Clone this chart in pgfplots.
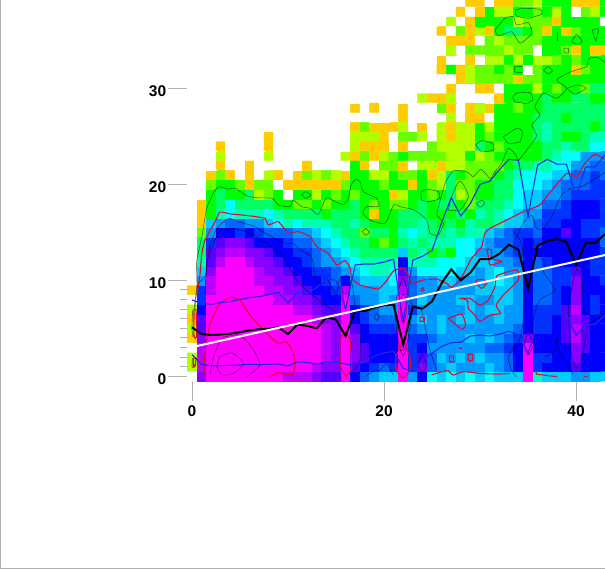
\documentclass[border=0pt]{standalone}
\usepackage{fontspec}
\setmainfont{Liberation Sans}
\usepackage{pgfplots}
\pgfplotsset{compat=1.18}
\definecolor{cblue}{RGB}{30,40,230}
\definecolor{cred}{RGB}{225,10,50}
\definecolor{tickg}{RGB}{176,176,176}
\begin{document}
\begin{tikzpicture}[x=1pt,y=1pt]
\useasboundingbox (0,0) rectangle (605,569);
\draw[tickg,line width=1pt] (0.5,569) -- (0.5,0.5) -- (605,0.5);
\begin{axis}[
  at={(187.2pt,187.9pt)},anchor=south west,
  scale only axis,width=417.8pt,height=381.1pt,
  xmin=-0.5,xmax=43.02,ymin=-0.5,ymax=39.2,
  axis line style={draw=none},
  xtick={0,20,40},ytick={0,10,20,30},
  minor ytick={1,2,3,4,5,6,7,8,9},
  xtick pos=bottom,ytick pos=left,tick align=outside,
  major tick length=19.5pt,minor tick length=7pt,
  tick style={draw=tickg,line width=1pt},
  ticklabel style={font=\bfseries\fontsize{15.5}{15.5}\selectfont,text=black},
  xticklabel style={yshift=-1.5pt},
  yticklabel style={xshift=2pt,yshift=-3pt},
  /pgf/number format/assume math mode=true,
  point meta min=0,point meta max=16,
  colormap={levels}{
    rgb255(0)=(255,255,255) rgb255(1)=(255,204,0) rgb255(2)=(179,255,0)
    rgb255(3)=(102,255,0) rgb255(4)=(0,255,0) rgb255(5)=(0,255,102)
    rgb255(6)=(0,255,179) rgb255(7)=(0,255,255) rgb255(8)=(0,204,255)
    rgb255(9)=(0,153,255) rgb255(10)=(0,102,255) rgb255(11)=(0,51,255)
    rgb255(12)=(0,0,255) rgb255(13)=(85,0,255) rgb255(14)=(136,0,255)
    rgb255(15)=(187,0,255) rgb255(16)=(255,0,255)},
  clip=true,
]
\addplot[matrix plot*,mesh/cols=44,mesh/ordering=x varies,point meta=explicit,draw=none]
 table[row sep=\\,x expr={mod(\coordindex,44)},y expr={floor((\coordindex+0.5)/44)},meta=v]{
v\\
0\\14\\16\\16\\16\\16\\16\\16\\16\\16\\15\\15\\15\\14\\13\\13\\16\\12\\10\\9\\8\\8\\16\\9\\12\\7\\8\\7\\8\\7\\8\\7\\8\\8\\8\\16\\6\\8\\8\\8\\9\\9\\8\\8\\
2\\15\\16\\16\\16\\16\\16\\16\\16\\16\\16\\16\\16\\15\\14\\14\\16\\13\\12\\11\\10\\11\\16\\11\\14\\10\\9\\8\\9\\9\\9\\8\\9\\10\\12\\16\\11\\12\\12\\12\\13\\12\\12\\12\\
2\\15\\16\\16\\16\\16\\16\\16\\16\\16\\16\\16\\16\\16\\15\\14\\16\\14\\13\\12\\12\\12\\16\\11\\13\\10\\8\\9\\8\\9\\8\\9\\9\\10\\12\\16\\11\\11\\12\\12\\14\\12\\12\\12\\
0\\15\\16\\16\\16\\16\\16\\16\\16\\16\\16\\16\\16\\16\\15\\14\\16\\14\\13\\12\\12\\12\\16\\11\\12\\9\\9\\9\\9\\9\\9\\10\\10\\11\\12\\16\\12\\12\\12\\12\\14\\13\\12\\12\\
1\\14\\16\\16\\16\\16\\16\\16\\16\\16\\16\\16\\16\\16\\15\\14\\16\\14\\12\\12\\12\\12\\16\\11\\11\\10\\9\\9\\9\\8\\9\\8\\9\\10\\11\\14\\12\\12\\12\\13\\15\\13\\12\\12\\
2\\13\\16\\16\\16\\16\\16\\16\\16\\16\\16\\16\\16\\16\\15\\14\\16\\13\\12\\11\\11\\11\\16\\10\\9\\9\\8\\9\\9\\9\\9\\9\\9\\9\\10\\12\\11\\11\\12\\13\\15\\13\\12\\12\\
1\\13\\16\\16\\16\\16\\16\\16\\16\\16\\16\\16\\16\\15\\14\\14\\16\\12\\11\\10\\10\\10\\16\\9\\8\\9\\8\\9\\8\\8\\9\\9\\8\\9\\9\\12\\11\\11\\12\\13\\14\\13\\12\\12\\
2\\12\\16\\16\\16\\16\\16\\16\\16\\16\\16\\15\\15\\14\\13\\13\\16\\12\\11\\10\\9\\9\\16\\11\\9\\9\\9\\9\\9\\8\\9\\8\\8\\9\\9\\12\\11\\11\\11\\13\\15\\12\\11\\12\\
0\\11\\16\\16\\16\\16\\16\\16\\16\\15\\15\\14\\14\\13\\12\\12\\16\\10\\9\\9\\8\\9\\16\\10\\8\\9\\9\\9\\8\\8\\9\\9\\8\\8\\9\\12\\10\\10\\11\\12\\14\\12\\11\\12\\
1\\11\\15\\16\\16\\16\\16\\16\\15\\15\\14\\14\\13\\12\\12\\11\\15\\9\\9\\9\\8\\8\\15\\10\\9\\9\\9\\9\\9\\9\\8\\8\\8\\8\\9\\12\\10\\10\\11\\12\\14\\12\\12\\12\\
0\\9\\15\\16\\16\\16\\16\\15\\15\\14\\14\\13\\12\\12\\11\\10\\12\\9\\8\\8\\8\\7\\14\\10\\9\\9\\8\\8\\9\\9\\9\\8\\7\\8\\9\\12\\10\\10\\11\\11\\14\\12\\12\\11\\
0\\8\\14\\16\\16\\16\\16\\15\\14\\14\\13\\12\\12\\11\\11\\10\\9\\8\\7\\6\\6\\7\\13\\9\\7\\7\\7\\7\\8\\8\\9\\8\\7\\9\\9\\12\\10\\10\\11\\11\\13\\12\\11\\11\\
0\\6\\13\\15\\16\\16\\15\\14\\14\\13\\12\\12\\11\\10\\9\\9\\8\\7\\6\\6\\6\\6\\12\\6\\6\\6\\7\\7\\7\\8\\8\\8\\9\\9\\10\\12\\10\\11\\12\\12\\12\\12\\11\\11\\
0\\5\\13\\14\\15\\15\\14\\14\\13\\12\\12\\11\\11\\10\\9\\8\\7\\6\\5\\5\\5\\5\\8\\5\\6\\4\\5\\4\\7\\7\\9\\9\\9\\10\\11\\12\\12\\12\\12\\12\\12\\12\\12\\11\\
0\\5\\11\\13\\14\\14\\13\\12\\12\\12\\11\\10\\10\\9\\8\\7\\6\\5\\5\\4\\3\\4\\5\\6\\5\\6\\6\\6\\7\\7\\8\\9\\10\\10\\11\\12\\11\\12\\12\\12\\12\\12\\12\\10\\
0\\3\\9\\12\\12\\11\\12\\11\\10\\10\\10\\9\\9\\8\\7\\6\\5\\5\\3\\5\\5\\4\\6\\7\\6\\5\\5\\6\\5\\6\\6\\8\\9\\10\\11\\11\\10\\12\\12\\13\\12\\11\\11\\10\\
0\\1\\8\\9\\10\\10\\9\\9\\8\\7\\6\\7\\6\\6\\6\\5\\5\\6\\5\\4\\4\\4\\5\\5\\6\\5\\4\\5\\4\\6\\5\\5\\6\\8\\8\\9\\10\\11\\11\\12\\12\\11\\11\\11\\
0\\1\\4\\6\\7\\6\\6\\6\\7\\6\\5\\5\\5\\5\\4\\5\\5\\5\\4\\1\\4\\4\\5\\5\\5\\4\\4\\4\\5\\4\\6\\5\\6\\7\\8\\9\\9\\11\\11\\11\\12\\12\\12\\11\\
0\\1\\4\\5\\7\\5\\5\\5\\5\\4\\4\\3\\3\\4\\3\\4\\4\\5\\4\\3\\4\\3\\3\\4\\5\\4\\5\\5\\4\\3\\5\\5\\5\\6\\7\\8\\8\\10\\10\\11\\12\\12\\12\\11\\
0\\0\\4\\5\\4\\4\\5\\2\\3\\4\\0\\4\\4\\2\\4\\3\\4\\3\\4\\4\\4\\1\\2\\4\\4\\3\\4\\5\\2\\3\\4\\4\\5\\5\\7\\8\\8\\9\\9\\10\\11\\11\\11\\11\\
0\\0\\3\\4\\4\\3\\1\\3\\3\\0\\1\\1\\1\\1\\1\\1\\3\\4\\4\\4\\3\\4\\4\\1\\4\\3\\2\\5\\3\\3\\4\\4\\5\\5\\7\\7\\7\\8\\9\\10\\10\\10\\11\\11\\
0\\0\\1\\3\\1\\0\\1\\0\\2\\1\\0\\1\\3\\2\\3\\2\\1\\4\\4\\2\\2\\4\\3\\3\\4\\1\\2\\5\\4\\3\\3\\3\\4\\5\\6\\7\\7\\7\\8\\8\\10\\10\\11\\10\\
0\\0\\0\\1\\0\\0\\1\\0\\0\\0\\0\\0\\1\\0\\0\\0\\0\\4\\1\\0\\3\\3\\1\\0\\2\\2\\1\\2\\2\\3\\3\\3\\3\\4\\5\\5\\6\\6\\7\\7\\9\\9\\10\\10\\
0\\0\\0\\2\\0\\0\\0\\0\\2\\0\\0\\0\\0\\0\\0\\0\\2\\1\\3\\1\\2\\3\\4\\3\\3\\3\\3\\2\\2\\4\\2\\3\\4\\4\\4\\4\\4\\5\\6\\7\\7\\9\\9\\9\\
0\\0\\0\\1\\0\\0\\0\\0\\1\\0\\0\\0\\0\\0\\0\\0\\0\\2\\1\\1\\1\\0\\1\\0\\0\\3\\2\\2\\2\\2\\5\\4\\3\\4\\4\\4\\4\\5\\5\\6\\5\\5\\7\\7\\
0\\0\\0\\0\\0\\0\\0\\0\\1\\0\\0\\0\\0\\0\\0\\0\\0\\2\\2\\2\\1\\0\\3\\3\\2\\0\\2\\1\\2\\2\\4\\3\\4\\4\\4\\4\\5\\6\\5\\4\\4\\5\\6\\6\\
0\\0\\0\\0\\0\\0\\0\\0\\0\\0\\0\\0\\0\\0\\0\\0\\0\\1\\3\\1\\1\\1\\2\\0\\1\\0\\2\\1\\2\\2\\4\\2\\4\\4\\4\\4\\5\\6\\5\\5\\5\\5\\4\\5\\
0\\0\\0\\0\\0\\0\\0\\0\\0\\0\\0\\0\\0\\0\\0\\0\\0\\0\\0\\0\\0\\0\\1\\0\\0\\0\\0\\2\\0\\1\\1\\0\\4\\4\\4\\4\\5\\5\\5\\4\\5\\5\\5\\5\\
0\\0\\0\\0\\0\\0\\0\\0\\0\\0\\0\\0\\0\\0\\0\\0\\0\\1\\0\\1\\0\\0\\1\\0\\0\\0\\3\\1\\0\\1\\2\\1\\4\\4\\3\\4\\4\\5\\5\\5\\5\\5\\5\\5\\
0\\0\\0\\0\\0\\0\\0\\0\\0\\0\\0\\0\\0\\0\\0\\0\\0\\0\\0\\0\\0\\0\\0\\0\\2\\1\\1\\2\\0\\0\\0\\0\\1\\4\\4\\4\\4\\5\\4\\4\\5\\5\\4\\4\\
0\\0\\0\\0\\0\\0\\0\\0\\0\\0\\0\\0\\0\\0\\0\\0\\0\\0\\0\\0\\0\\0\\0\\0\\0\\0\\0\\1\\0\\0\\1\\1\\0\\4\\4\\4\\2\\4\\3\\4\\4\\3\\5\\5\\
0\\0\\0\\0\\0\\0\\0\\0\\0\\0\\0\\0\\0\\0\\0\\0\\0\\0\\0\\0\\0\\0\\0\\0\\0\\0\\0\\0\\1\\2\\3\\3\\3\\3\\1\\3\\3\\4\\4\\4\\4\\4\\4\\4\\
0\\0\\0\\0\\0\\0\\0\\0\\0\\0\\0\\0\\0\\0\\0\\0\\0\\0\\0\\0\\0\\0\\0\\0\\0\\0\\1\\4\\1\\2\\3\\3\\4\\3\\4\\0\\3\\4\\4\\4\\1\\3\\4\\4\\
0\\0\\0\\0\\0\\0\\0\\0\\0\\0\\0\\0\\0\\0\\0\\0\\0\\0\\0\\0\\0\\0\\0\\0\\0\\0\\1\\0\\0\\1\\0\\2\\2\\4\\2\\4\\2\\2\\3\\4\\3\\4\\4\\4\\
0\\0\\0\\0\\0\\0\\0\\0\\0\\0\\0\\0\\0\\0\\0\\0\\0\\0\\0\\0\\0\\0\\0\\0\\0\\0\\0\\2\\0\\3\\3\\3\\3\\2\\3\\3\\0\\4\\4\\3\\1\\4\\1\\1\\
0\\0\\0\\0\\0\\0\\0\\0\\0\\0\\0\\0\\0\\0\\0\\0\\0\\0\\0\\0\\0\\0\\0\\0\\0\\0\\0\\1\\1\\1\\0\\3\\2\\3\\3\\3\\3\\4\\4\\4\\4\\4\\4\\4\\
0\\0\\0\\0\\0\\0\\0\\0\\0\\0\\0\\0\\0\\0\\0\\0\\0\\0\\0\\0\\0\\0\\0\\0\\0\\0\\1\\0\\3\\1\\2\\1\\4\\5\\5\\4\\3\\1\\4\\1\\3\\4\\4\\4\\
0\\0\\0\\0\\0\\0\\0\\0\\0\\0\\0\\0\\0\\0\\0\\0\\0\\0\\0\\0\\0\\0\\0\\0\\0\\0\\0\\2\\0\\1\\4\\4\\4\\4\\2\\3\\3\\3\\1\\4\\4\\4\\4\\0\\
0\\0\\0\\0\\0\\0\\0\\0\\0\\0\\0\\0\\0\\0\\0\\0\\0\\0\\0\\0\\0\\0\\0\\0\\0\\0\\0\\0\\1\\0\\1\\4\\2\\2\\4\\4\\3\\4\\2\\4\\0\\3\\2\\4\\
0\\0\\0\\0\\0\\0\\0\\0\\0\\0\\0\\0\\0\\0\\0\\0\\0\\0\\0\\0\\0\\0\\0\\0\\0\\0\\0\\0\\0\\1\\1\\0\\1\\1\\3\\3\\2\\4\\4\\4\\1\\1\\1\\4\\
};
\pgfplotsset{dk/.style={draw=black,draw opacity=0.5,line width=0.65pt,no marks,smooth,tension=0.35},
 rd/.style={draw=cred,line width=1.1pt,no marks,smooth,tension=0.3},
 bl/.style={draw=cblue,line width=1.1pt,no marks}}
% dark contours
\addplot[dk] coordinates {(0.2,7)(0.5,9.33)(0.49,12)(1.08,14.8)(1.53,17.5)(2.4,19.4)(2.9,19.75)(3.8,19.5)(4.5,19.6)(5.7,18.8)(6.9,18.6)(8.37,18.54)(9,17.84)(10.2,17.67)(10.55,18.36)(11.4,17.67)(12.3,17.5)(13.16,16.87)(14,18.64)(14.9,18.2)(15.76,17.9)(16.3,18.54)(16.56,19.93)(17.05,20.5)(17.5,20.27)(17.85,19.23)(19.24,18.54)(19.45,17.7)(18.2,17.67)(17.8,17)(18.54,16.28)(20.1,15.93)(21,17.84)(21.67,17.67)(23.2,17.3)(24.45,16.28)(24.8,14.9)(25.66,14.72)(26.2,15.94)(25.5,16.8)(25.66,17.6)(26.36,20.1)(27.2,21.4)(28.6,21.3)(29.3,20.8)(30.1,21.56)(31.05,20.6)(31.4,21.1)(32.26,22.2)(32.95,23.75)(33.75,23.05)(34,22.5)(35.4,24.27)(35.9,25.1)(35.4,26.2)(36.25,27.2)(35.73,28.1)(36.6,29.5)(38,28.96)(39.03,30)(38,30.87)(39.4,31.7)(41.1,32.26)(41.3,33.1)(42.3,33.2)(43.1,32.6)};
\addplot[dk] coordinates {(0.3,7)(0.6,9.5)(1.42,10.55)(1.77,13.33)(2.57,15.4)(3.8,16.45)(4.83,16.1)(6.56,15.6)(7.6,14.9)(9.7,13.85)(10.55,13.85)(11.25,13.15)(12.3,12.6)(12.64,11.77)(12.8,10.2)(13.5,9.5)(14.03,10.2)(15.07,8.46)(15.35,10.03)(16.1,10.55)(16.7,9.5)(17,7.25)(17.5,5.5)(17.5,1.7)(16.8,0.48)};
\addplot[dk] coordinates {(1.35,8.64)(1.6,12.1)(2.74,14.9)(4.13,15.4)(6.04,14.9)(7.78,13.85)(9.5,12.46)(10.9,10.03)(12.3,8.64)(13.68,7.6)(14.9,6.7)};
\addplot[dk] coordinates {(1.875,0.13)(2.2,1.87)(3.1,3.95)(5,4.3)(6.4,2.73)(7.08,1.17)(5.7,-0.04)};
\addplot[dk] coordinates {(2.57,1)(2.92,2.04)(4.13,2.46)(5.17,1.7)(5.35,1.17)(4.3,0.3)(3.1,0.13)(2.57,1)};
\addplot[dk] coordinates {(15.5,10)(16,7.1)(16.6,10)};
\addplot[dk] coordinates {(18,-0.03)(18.9,0.5)(19.6,0.65)(20.27,1.35)(20.97,0.13)};
\addplot[dk] coordinates {(18.96,6.2)(19.24,6.55)(19.5,6.2)(19.24,5.8)(18.96,6.2)};
\addplot[dk] coordinates {(22,10.37)(22.64,8.3)(22.95,6.9)(22.53,4.1)(22.3,3)(22,2.7)(21.6,3)(21.14,6.55)(21.4,8.64)(22,10.37)};
\addplot[dk] coordinates {(21.7,7.8)(22,8.6)(22.4,7.8)(22.2,6)(22,5.6)(21.8,6)(21.7,7.8)};
\addplot[dk] coordinates {(21.6,3)(22,2.1)(22.4,3)};
\addplot[dk] coordinates {(24,2.32)(24.44,1.17)(24,0.4)(23.5,1.17)(24,2.32)};
\addplot[dk] coordinates {(23.9,6.9)(24.44,4.47)(24.8,2.7)(25.5,0.65)};
\addplot[dk] coordinates {(33.47,15.06)(34.34,13.85)(34.58,10.7)(34.58,6.55)(34.16,3.95)(32.95,2.04)(33.3,0.65)(33.8,-0.04)};
\addplot[dk] coordinates {(35.55,14.2)(35.9,12.8)(36.8,11.8)(36.6,10.9)(37.8,9)(36.4,8.1)(35.9,7.25)(35.55,5.86)(35.4,4.47)};
\addplot[dk] coordinates {(34.58,3.26)(35,4.47)(35.55,3.26)(35,2.2)(34.58,3.26)};
\addplot[dk] coordinates {(36.8,2)(37.8,2.7)(38,3.95)(38.16,2.7)(39,1.35)(39.65,0.3)};
\addplot[dk] coordinates {(40.07,11.24)(40.66,10)(40.76,7.07)(41.45,6.38)(43.1,6.38)(41.3,5.34)(40.66,2.04)(40.07,0.83)(39.55,2.04)(39.2,6.9)(39.72,10)(40.07,11.24)};
\addplot[dk] coordinates {(39.65,5)(40.07,4.3)(40.6,5)};
\addplot[dk] coordinates {(33.65,14.2)(34.5,15.94)(35.4,16.8)(35.9,15.4)(36.6,15.4)(37.47,16.6)(38.5,18.9)(39.55,19.6)(40.6,19.75)(42,20.6)(43.1,21.3)};
\addplot[dk] coordinates {(33.65,38.16)(34.5,38.33)(36.25,38.23)(36.43,37.74)(35.04,37.3)(33.82,37.53)(33.65,38.16)};
\addplot[dk] coordinates {(31.57,36.08)(32.6,37.3)(33.48,37.46)(33.82,36.6)(35.04,36.84)(35.4,35.73)(34.17,34.7)(33.3,35.9)(31.9,35.45)(31.57,36.08)};
\addplot[dk] coordinates {(38.06,35.9)(38.06,34.96)};
\addplot[dk] coordinates {(39.55,34.86)(40.07,35.6)(40.66,34.86)(40.07,34.6)(39.55,34.86)};
\addplot[dk] coordinates {(41.7,36.07)(42.33,36.18)(42.05,34.96)(41.7,36.07)};
\addplot[dk] coordinates {(38.75,34.17)(39.2,34.17)(39.2,33.7)(38.75,33.7)(38.75,34.17)};
\addplot[dk] coordinates {(36.6,31.9)(37.12,32.26)(37.54,31.84)(37.12,31.5)(36.6,31.9)};
\addplot[dk] coordinates {(34.4,32.26)(33.65,32.26)(33.65,31.7)(34.4,31.67)};
\addplot[dk] coordinates {(33.4,29.06)(33.82,29.5)(35.2,29.55)(35.5,28.8)(34.86,28.44)(33.65,28.6)(33.4,29.06)};
\addplot[dk] coordinates {(39.03,30)(40.25,30.35)(41.05,30)(39.9,29.37)(39.03,30)};
\addplot[dk] coordinates {(32.43,24.96)(33.82,25.83)(34.4,25.5)(34.17,24.44)(32.95,24.27)(32.43,24.96)};
\addplot[dk] coordinates {(29.55,24.1)(30.18,24.55)(31.32,24.27)(31.4,23.57)(30.18,23.4)(29.55,24.1)};
\addplot[dk] coordinates {(23.86,19.23)(24.45,19.48)(25.66,19.23)(25.77,18.54)(24.8,18.2)(23.93,18.36)(23.86,19.23)};
\addplot[dk] coordinates {(29.66,18)(30.18,18.36)(30.5,18)(30,17.6)(29.66,18)};
\addplot[dk] coordinates {(26.7,17.3)(27.05,18.7)(27.75,20.27)(28.2,20.1)(28.8,18.7)(27.92,17.3)(26.7,17.3)};
\addplot[dk] coordinates {(17.74,15.06)(18.1,15.4)(18.47,15)(18.1,14.7)(17.74,15.06)};
\addplot[dk] coordinates {(11.42,18.95)(11.84,19.23)(12.36,18.88)(11.84,18.54)(11.42,18.95)};
\addplot[dk] coordinates {(0.07,6.97)(0,5)(0.1,4.1)};
\addplot[dk] coordinates {(0.05,1.9)(0,1)(0.2,0.9)(0.45,1.9)};
% red contours
\addplot[rd] coordinates {(0.5,8.5)(0.83,10.55)(1,12.6)(1.28,14)(2.4,16.1)(2.9,17.1)(4.13,16.9)(5.87,16.73)(7.6,16.45)(7.95,15.76)(9,16.1)(10.03,14.9)(11.07,15.07)(12.3,14.55)(13,13.5)(14.2,12.8)(15.07,11.6)(15.94,12.05)(16.5,11.25)(16.63,10.2)(17.5,9.5)(19.4,9.1)(20.3,10)(21,11)(22,11.24)(22.53,10.55)(22.88,9.68)(24.1,10.03)(25.48,10.13)(26.52,9.68)(27.05,9.26)(27.9,10.03)(28.78,11.6)(29.13,12.3)(30.17,13.5)(30.5,14.9)(31.04,15.41)(32.77,16.28)(34.5,17.14)(35.9,17.67)(36.25,17.85)(37.5,19.4)(39.03,21.14)(40.07,20.8)(40.94,22.2)(41.98,23.12)(43.1,22.53)};
\addplot[rd] coordinates {(1.35,0.13)(1.35,2.39)(1.88,5.5)(2.92,7.6)(3.96,8.22)(5,7.94)(6.04,6.38)(7.78,4.47)(9,3.43)(9.86,3.6)(10.56,2.39)(10.73,1)(10.38,0.13)(9,0.37)(8.13,-0.04)};
\addplot[rd] coordinates {(16,4.65)(16.46,3.78)(16.63,1)(16.1,0)(15.5,1)(15.4,3.78)(16,4.65)};
\addplot[rd] coordinates {(22,3.78)(22.7,2.04)(22.7,0.65)(22,-0.2)(21.3,0.65)(21.25,2.04)(22,3.78)};
\addplot[rd] coordinates {(27.84,8.12)(28.68,7.94)(28.78,7.07)(29.48,6.38)(30,5.69)(31.04,6.38)(32.15,6.55)(31.66,7.39)(32.43,8.46)(33.99,10.03)(33.9,11.07)(32.95,10.9)(31.73,10.44)(31.56,9.33)(30.86,7.94)(30,7.4)(28.96,8.12)(27.84,8.12)};
\addplot[rd] coordinates {(26.7,6.03)(28.1,6.48)(28.5,5.34)(28.1,4.9)(26.7,6.03)};
\addplot[rd] coordinates {(29.6,10.03)(30.34,10.1)(30.7,9.68)(30.17,9.16)(29.65,9.68)(29.6,10.03)};
\addplot[rd] coordinates {(30.69,13.26)(31.2,13.15)(31.2,12.28)(32.25,11.94)(31.04,11.59)(30.87,12.46)(30.69,13.26)};
\addplot[rd] coordinates {(23.85,9.15)(24.1,9.2)(24.15,8.95)(23.9,8.9)(23.85,9.15)};
\addplot[rd] coordinates {(23.75,6.15)(24.2,6.15)(24.2,5.75)(23.75,5.75)(23.75,6.15)};
\addplot[rd] coordinates {(26.8,2.15)(27.2,2.15)(27.2,1.5)(26.85,1.5)(26.8,2.15)};
\addplot[rd] coordinates {(28.75,2.3)(29.2,2.3)(29.2,1.65)(28.8,1.65)(28.75,2.3)};
\addplot[rd] coordinates {(27.9,3)(28.1,3)(28.1,2.85)(27.9,2.85)(27.9,3)};
\addplot[rd] coordinates {(24.96,0.13)(26,0.48)(26.7,0.58)(27.2,0.13)(28.26,0.48)(30,0.3)(31.9,0.23)(33.12,0.3)};
\addplot[rd] coordinates {(35.9,0.5)(35.9,0.23)(38,-0.04)};
\addplot[rd] coordinates {(40.85,0)(41.2,0)};
\addplot[rd] coordinates {(0.21,6.9)(0.42,6.9)(0.49,4.13)(0.21,4.13)(0.21,6.9)};
\addplot[rd] coordinates {(0.14,1.87)(0.42,1.87)(0.31,1)(0.14,1)(0.14,1.87)};
% blue percentile lines
\addplot[bl] coordinates {(0,7.95)(1,7.6)(2,7.5)(3,7.67)(4,7.8)(5,8)(6,8.2)(7,8.3)(8,8.5)(9,8.75)(10,7.65)(11,8.75)(12,8.7)(13,9.25)(14,10.15)(15,10)(16,7)(17,11.6)(18,11.7)(19,11.7)(20,11.9)(21,12.2)(22,5.7)(23,12.1)(24,12.5)(25,13.1)(26,16)(27,18.6)(28,16.7)(29,18)(30,20)(31,20.3)(32,21.5)(33,22.6)(34,22.5)(35,16.7)(36,22)(37,22.6)(38,22.1)(39,22.1)(40,18.7)(41,21.8)(42,21.8)(43,23.05)};
\addplot[bl] coordinates {(0,2.25)(1,1.25)(2,1.1)(3,1.1)(4,1.15)(5,1.18)(6,1.25)(7,1.2)(8,1.25)(9,1.28)(10,1.07)(11,1.5)(12,1.43)(13,1.28)(14,1.5)(15,1.47)(16,1.28)(17,1.15)(18,1.5)(19,2.15)(20,2.45)(21,2.6)(22,0.83)(23,0.5)(24,1.7)(25,2.4)(26,3.1)(27,3.5)(28,3.55)(29,4.2)(30,4.3)(31,4.2)(32,4.37)(33,4.7)(34,4.3)(35,2.4)(36,5.3)(37,6)(38,6.7)(39,6.4)(40,4.3)(41,5.3)(42,5.45)(43,6.4)};
% median
\addplot[draw=black,line width=2pt,no marks] coordinates {(0,5.1)(1,4.4)(2,4.3)(3,4.35)(4,4.45)(5,4.6)(6,4.8)(7,4.9)(8,4.95)(9,5.1)(10,4.4)(11,5.4)(12,5.25)(13,5)(14,6.15)(15,5.9)(16,4.2)(17,6.9)(18,6.8)(19,7.15)(20,7.4)(21,7.45)(22,3.3)(23,7.25)(24,7.05)(25,7.8)(26,9.7)(27,11.15)(28,10)(29,10.8)(30,12.2)(31,12.2)(32,12.75)(33,13.7)(34,13.2)(35,9.15)(36,13.6)(37,14.1)(38,14.3)(39,14)(40,11.6)(41,13.85)(42,13.9)(43,14.8)};
% regression line
\addplot[draw=white,line width=2pt,no marks] coordinates {(0.5,3.15)(43.1,12.65)};
\end{axis}
\end{tikzpicture}
\end{document}
